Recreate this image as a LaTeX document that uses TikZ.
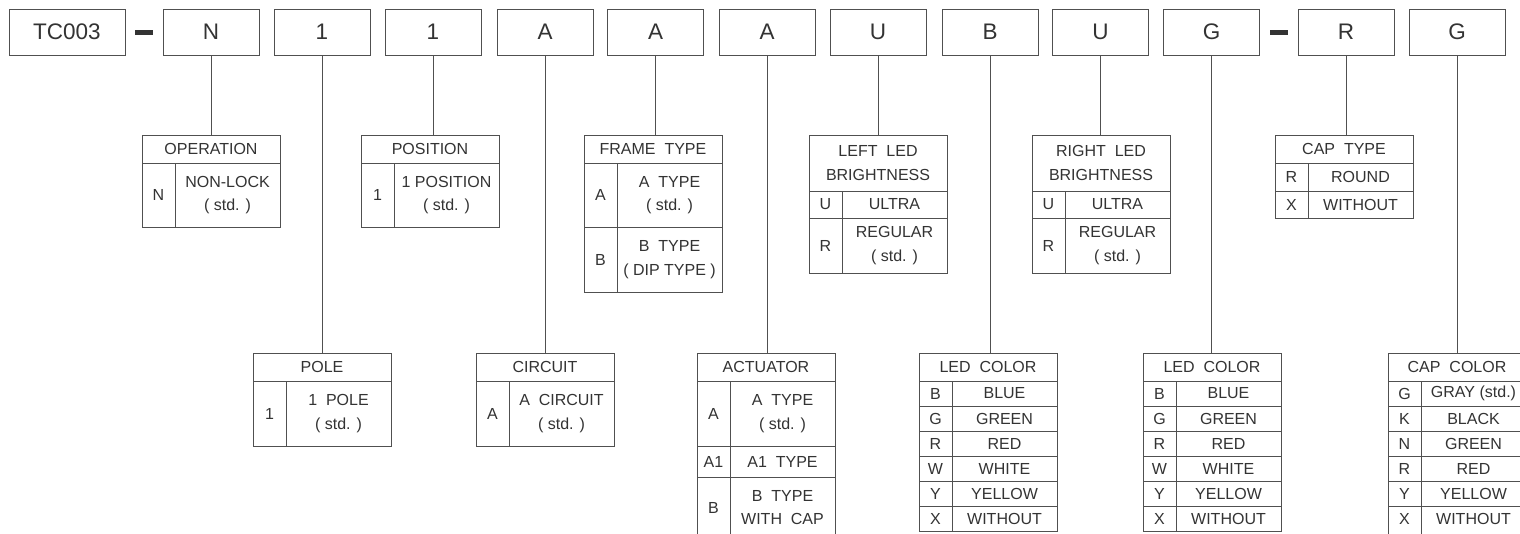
\documentclass[tikz,border=0pt]{standalone}
\usepackage{fontspec}
\setmainfont{Liberation Sans}
\definecolor{ln}{HTML}{505050}
\definecolor{tx}{HTML}{333333}
\begin{document}
\begin{tikzpicture}[x=1pt,y=-1pt,line width=0.9pt,
  codebox/.style={draw=ln, minimum width=96pt, minimum height=46pt, inner sep=0pt, text=tx, font=\fontsize{22.5}{24}\selectfont},
  tframe/.style={draw=ln, inner sep=0pt, anchor=north west, minimum width=138pt},
  tt/.style={text=tx, font=\fontsize{16}{23.5}\selectfont, align=center, inner sep=0pt},
  rule/.style={draw=ln},
  link/.style={draw=ln},
  bar/.style={fill=tx, minimum width=18pt, minimum height=5pt, inner sep=0pt}]
\useasboundingbox[fill=white] (0,0) rectangle (1520,533);
\clip (0,0) rectangle (1520,533);

% top code boxes
\node[codebox, minimum width=116pt] (b0) at (67,32) {TC003};
\node[bar] (d1) at (144,32.5) {};
\node[codebox] (b1) at (211,32) {N};
\node[codebox] (b2) at (322,32) {1};
\node[codebox] (b3) at (433,32) {1};
\node[codebox] (b4) at (545,32) {A};
\node[codebox] (b5) at (655.5,32) {A};
\node[codebox] (b6) at (767,32) {A};
\node[codebox] (b7) at (878,32) {U};
\node[codebox] (b8) at (990,32) {B};
\node[codebox] (b9) at (1100.5,32) {U};
\node[codebox] (b10) at (1211.5,32) {G};
\node[bar] (d2) at (1278.5,32.5) {};
\node[codebox] (b11) at (1346,32) {R};
\node[codebox] (b12) at (1457,32) {G};

% OPERATION
\begin{scope}[shift={(142,0)}]
\node[tframe, minimum height=92pt] (tOp) at (0,135) {};
\draw[rule] (0,163) -- (138,163) (33,163) -- (33,227);
\node[tt] (tOpH) at (69,149) {OPERATION};
\node[tt] (tOpC1) at (16.5,195) {N};
\node[tt] (tOpD1) at (85.5,195) {NON-LOCK\\( std. )};
\end{scope}

% POSITION
\begin{scope}[shift={(361,0)}]
\node[tframe, minimum height=92pt] (tPos) at (0,135) {};
\draw[rule] (0,163) -- (138,163) (33,163) -- (33,227);
\node[tt] (tPosH) at (69,149) {POSITION};
\node[tt] (tPosC1) at (16.5,195) {1};
\node[tt] (tPosD1) at (85.5,195) {1 POSITION\\( std. )};
\end{scope}

% FRAME TYPE
\begin{scope}[shift={(584,0)}]
\node[tframe, minimum height=157pt] (tFr) at (0,135) {};
\draw[rule] (0,163) -- (138,163) (0,227) -- (138,227) (33,163) -- (33,292);
\node[tt] (tFrH) at (69,149) {FRAME\ \ TYPE};
\node[tt] (tFrC1) at (16.5,195) {A};
\node[tt] (tFrD1) at (85.5,195) {A\ \ TYPE\\( std. )};
\node[tt] (tFrC2) at (16.5,259.5) {B};
\node[tt] (tFrD2) at (85.5,259.5) {B\ \ TYPE\\( DIP TYPE )};
\end{scope}

% LEFT LED BRIGHTNESS
\begin{scope}[shift={(809,0)}]
\node[tframe, minimum height=138pt] (tLl) at (0,135) {};
\draw[rule] (0,191) -- (138,191) (0,218) -- (138,218) (33,191) -- (33,273);
\node[tt] (tLlH) at (69,163) {LEFT\ \ LED\\BRIGHTNESS};
\node[tt] (tLlC1) at (16.5,204.5) {U};
\node[tt] (tLlD1) at (85.5,204.5) {ULTRA};
\node[tt] (tLlC2) at (16.5,245.5) {R};
\node[tt] (tLlD2) at (85.5,245.5) {REGULAR\\( std. )};
\end{scope}

% RIGHT LED BRIGHTNESS
\begin{scope}[shift={(1032,0)}]
\node[tframe, minimum height=138pt] (tRl) at (0,135) {};
\draw[rule] (0,191) -- (138,191) (0,218) -- (138,218) (33,191) -- (33,273);
\node[tt] (tRlH) at (69,163) {RIGHT\ \ LED\\BRIGHTNESS};
\node[tt] (tRlC1) at (16.5,204.5) {U};
\node[tt] (tRlD1) at (85.5,204.5) {ULTRA};
\node[tt] (tRlC2) at (16.5,245.5) {R};
\node[tt] (tRlD2) at (85.5,245.5) {REGULAR\\( std. )};
\end{scope}

% CAP TYPE
\begin{scope}[shift={(1275,0)}]
\node[tframe, minimum height=83pt] (tCt) at (0,135) {};
\draw[rule] (0,163) -- (138,163) (0,191) -- (138,191) (33,163) -- (33,218);
\node[tt] (tCtH) at (69,149) {CAP\ \ TYPE};
\node[tt] (tCtC1) at (16.5,177) {R};
\node[tt] (tCtD1) at (85.5,177) {ROUND};
\node[tt] (tCtC2) at (16.5,204.5) {X};
\node[tt] (tCtD2) at (85.5,204.5) {WITHOUT};
\end{scope}

% POLE
\begin{scope}[shift={(253,0)}]
\node[tframe, minimum height=93pt] (tPo) at (0,353) {};
\draw[rule] (0,381) -- (138,381) (33,381) -- (33,446);
\node[tt] (tPoH) at (69,367) {POLE};
\node[tt] (tPoC1) at (16.5,413.5) {1};
\node[tt] (tPoD1) at (85.5,413.5) {1\ \ POLE\\( std. )};
\end{scope}

% CIRCUIT
\begin{scope}[shift={(476,0)}]
\node[tframe, minimum height=93pt] (tCi) at (0,353) {};
\draw[rule] (0,381) -- (138,381) (33,381) -- (33,446);
\node[tt] (tCiH) at (69,367) {CIRCUIT};
\node[tt] (tCiC1) at (16.5,413.5) {A};
\node[tt] (tCiD1) at (85.5,413.5) {A\ \ CIRCUIT\\( std. )};
\end{scope}

% ACTUATOR
\begin{scope}[shift={(697,0)}]
\node[tframe, minimum height=207pt] (tAc) at (0,353) {};
\draw[rule] (0,381) -- (138,381) (0,446) -- (138,446) (0,477) -- (138,477) (33,381) -- (33,560);
\node[tt] (tAcH) at (69,367) {ACTUATOR};
\node[tt] (tAcC1) at (16.5,413.5) {A};
\node[tt] (tAcD1) at (85.5,413.5) {A\ \ TYPE\\( std. )};
\node[tt] (tAcC2) at (16.5,461.5) {A1};
\node[tt] (tAcD2) at (85.5,461.5) {A1\ \ TYPE};
\node[tt] (tAcC3) at (16.5,507.5) {B};
\node[tt] (tAcD3) at (85.5,507.5) {B\ \ TYPE\\WITH\ \ CAP};
\end{scope}

% LED COLOR (left)
\begin{scope}[shift={(919,0)}]
\node[tframe, minimum height=178pt] (tLc) at (0,353) {};
\draw[rule] (0,381) -- (138,381) (0,406) -- (138,406) (0,431) -- (138,431)
  (0,456) -- (138,456) (0,481) -- (138,481) (0,506) -- (138,506) (33,381) -- (33,531);
\node[tt] (tLcH) at (69,367) {LED\ \ COLOR};
\node[tt] (tLcC1) at (16.5,393.5) {B};  \node[tt] (tLcD1) at (85.5,393.5) {BLUE};
\node[tt] (tLcC2) at (16.5,418.5) {G};  \node[tt] (tLcD2) at (85.5,418.5) {GREEN};
\node[tt] (tLcC3) at (16.5,443.5) {R};  \node[tt] (tLcD3) at (85.5,443.5) {RED};
\node[tt] (tLcC4) at (16.5,468.5) {W};  \node[tt] (tLcD4) at (85.5,468.5) {WHITE};
\node[tt] (tLcC5) at (16.5,493.5) {Y};  \node[tt] (tLcD5) at (85.5,493.5) {YELLOW};
\node[tt] (tLcC6) at (16.5,518.5) {X};  \node[tt] (tLcD6) at (85.5,518.5) {WITHOUT};
\end{scope}

% LED COLOR (right)
\begin{scope}[shift={(1143,0)}]
\node[tframe, minimum height=178pt] (tRc) at (0,353) {};
\draw[rule] (0,381) -- (138,381) (0,406) -- (138,406) (0,431) -- (138,431)
  (0,456) -- (138,456) (0,481) -- (138,481) (0,506) -- (138,506) (33,381) -- (33,531);
\node[tt] (tRcH) at (69,367) {LED\ \ COLOR};
\node[tt] (tRcC1) at (16.5,393.5) {B};  \node[tt] (tRcD1) at (85.5,393.5) {BLUE};
\node[tt] (tRcC2) at (16.5,418.5) {G};  \node[tt] (tRcD2) at (85.5,418.5) {GREEN};
\node[tt] (tRcC3) at (16.5,443.5) {R};  \node[tt] (tRcD3) at (85.5,443.5) {RED};
\node[tt] (tRcC4) at (16.5,468.5) {W};  \node[tt] (tRcD4) at (85.5,468.5) {WHITE};
\node[tt] (tRcC5) at (16.5,493.5) {Y};  \node[tt] (tRcD5) at (85.5,493.5) {YELLOW};
\node[tt] (tRcC6) at (16.5,518.5) {X};  \node[tt] (tRcD6) at (85.5,518.5) {WITHOUT};
\end{scope}

% CAP COLOR
\begin{scope}[shift={(1388,0)}]
\node[tframe, minimum height=207pt] (tCc) at (0,353) {};
\draw[rule] (0,381) -- (138,381) (0,406) -- (138,406) (0,431) -- (138,431)
  (0,456) -- (138,456) (0,481) -- (138,481) (0,506) -- (138,506) (33,381) -- (33,560);
\node[tt] (tCcH) at (69,367) {CAP\ \ COLOR};
\node[tt] (tCcC1) at (16.5,393.5) {G};  \node[tt] (tCcD1) at (85.5,393.5) {GRAY (std.)};
\node[tt] (tCcC2) at (16.5,418.5) {K};  \node[tt] (tCcD2) at (85.5,418.5) {BLACK};
\node[tt] (tCcC3) at (16.5,443.5) {N};  \node[tt] (tCcD3) at (85.5,443.5) {GREEN};
\node[tt] (tCcC4) at (16.5,468.5) {R};  \node[tt] (tCcD4) at (85.5,468.5) {RED};
\node[tt] (tCcC5) at (16.5,493.5) {Y};  \node[tt] (tCcD5) at (85.5,493.5) {YELLOW};
\node[tt] (tCcC6) at (16.5,518.5) {X};  \node[tt] (tCcD6) at (85.5,518.5) {WITHOUT};
\end{scope}

% connectors
\draw[link] (b1.south) -- (b1.south |- tOp.north);
\draw[link] (b2.south) -- (b2.south |- tPo.north);
\draw[link] (b3.south) -- (b3.south |- tPos.north);
\draw[link] (b4.south) -- (b4.south |- tCi.north);
\draw[link] (b5.south) -- (b5.south |- tFr.north);
\draw[link] (b6.south) -- (b6.south |- tAc.north);
\draw[link] (b7.south) -- (b7.south |- tLl.north);
\draw[link] (b8.south) -- (b8.south |- tLc.north);
\draw[link] (b9.south) -- (b9.south |- tRl.north);
\draw[link] (b10.south) -- (b10.south |- tRc.north);
\draw[link] (b11.south) -- (b11.south |- tCt.north);
\draw[link] (b12.south) -- (b12.south |- tCc.north);
\end{tikzpicture}
\end{document}
